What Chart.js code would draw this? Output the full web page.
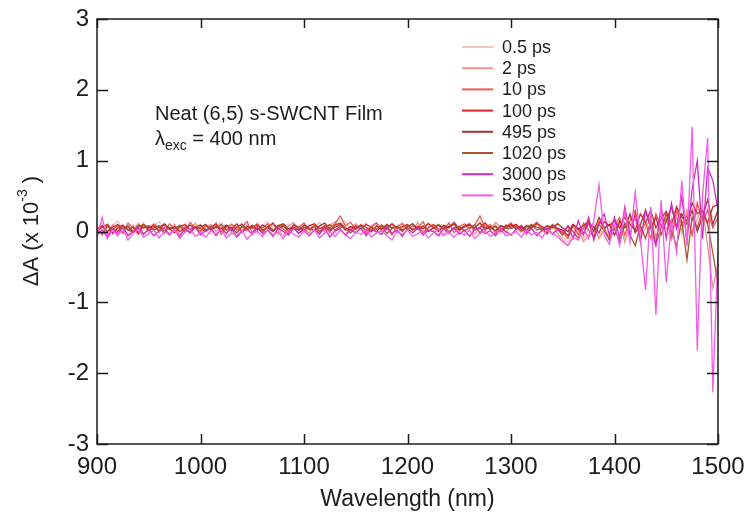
<!DOCTYPE html>
<html>
<head>
<meta charset="utf-8">
<script src="https://cdn.jsdelivr.net/npm/chart.js@4.4.1/dist/chart.umd.min.js"></script>
<style>
  html, body { margin: 0; padding: 0; background: #fff; }
  #wrap { position: relative; width: 747px; height: 518px; }
</style>
</head>
<body>
<div id="wrap"><canvas id="chart"></canvas></div>
<script>
// wavelength grid (nm)
const wavelengths = [
  900, 905, 910, 915, 920, 925, 930, 935, 940, 945,
  950, 955, 960, 965, 970, 975, 980, 985, 990, 995,
  1000, 1005, 1010, 1015, 1020, 1025, 1030, 1035, 1040, 1045,
  1050, 1055, 1060, 1065, 1070, 1075, 1080, 1085, 1090, 1095,
  1100, 1105, 1110, 1115, 1120, 1125, 1130, 1135, 1140, 1145,
  1150, 1155, 1160, 1165, 1170, 1175, 1180, 1185, 1190, 1195,
  1200, 1205, 1210, 1215, 1220, 1225, 1230, 1235, 1240, 1245,
  1250, 1255, 1260, 1265, 1270, 1275, 1280, 1285, 1290, 1295,
  1300, 1305, 1310, 1315, 1320, 1325, 1330, 1335, 1340, 1345,
  1350, 1355, 1360, 1365, 1370, 1375, 1380, 1385, 1390, 1395,
  1400, 1405, 1410, 1415, 1420, 1425, 1430, 1435, 1440, 1445,
  1450, 1455, 1460, 1465, 1470, 1475, 1480, 1485, 1490, 1495,
  1500
];

const delayLabels = ['0.5 ps', '2 ps', '10 ps', '100 ps', '495 ps', '1020 ps', '3000 ps', '5360 ps'];
const delayColors = ['#f5c4be', '#f3928a', '#ef5a4c', '#d8252e', '#a03636', '#a5562e', '#d42ac4', '#f25ce6'];

// ΔA (x 10^-3) per delay
const dA_05ps = [
  .05, .12, -.04, .08, .15, .02, -.06, .1, .04, .12,
  -.02, .08, .14, .03, -.05, .09, .02, .11, -.03, .06,
  .1, .01, -.04, .07, .13, .05, -.02, .08, .12, 0,
  .06, -.03, .09, .14, .04, -.05, .07, .11, .02, .08,
  -.04, .1, .05, .13, .01, .07, -.03, .09, .15, .04,
  0, .08, .12, -.02, .06, .1, .03, -.05, .08, .13,
  .05, -.01, .09, .04, .12, .02, -.04, .07, .1, .03,
  .08, -.02, .11, .05, .14, 0, .06, .1, -.03, .07,
  .12, .04, -.02, .09, .06, .13, .01, .08, -.04, .05,
  -.08, -.15, -.05, .06, -.1, .04, .12, -.06, .08, .15,
  .02, .18, -.1, .22, .05, -.08, .25, .1, -.12, .2,
  .3, .05, .35, -.05, .28, .15, .4, .1, .32, .2,
  .25
];
const dA_2ps = [
  .02, .08, -.06, .1, .04, -.03, .09, .01, .12, -.04,
  .06, .11, -.02, .07, .03, .1, -.05, .08, .02, .12,
  -.03, .06, .1, 0, .08, -.04, .11, .05, .01, .09,
  .04, .12, -.02, .07, .1, .01, -.06, .08, .13, .03,
  .07, -.03, .1, .05, 0, .09, .14, .02, -.05, .06,
  .11, .03, -.04, .08, .12, 0, .07, .1, -.02, .05,
  .09, .02, .13, -.03, .06, .1, .04, -.05, .08, .11,
  .01, .07, .12, -.04, .05, .09, .02, .13, .06, -.02,
  .08, .1, .03, -.05, .07, .12, 0, .06, .09, -.03,
  -.12, -.2, -.08, .02, -.14, -.05, .08, -.1, .03, .1,
  -.05, .12, -.15, .08, .18, -.1, .05, .2, -.08, .15,
  .05, -.12, .22, 0, .3, -.05, .18, .35, -.2, -.8,
  -.45
];
const dA_10ps = [
  .04, -.05, .1, .03, .08, -.02, .12, .05, -.04, .09,
  .02, .1, .06, -.03, .11, .04, .08, -.01, .13, .05,
  0, .09, .03, .12, -.04, .07, .1, .02, .06, .14,
  -.02, .08, .05, .11, 0, .09, .04, -.03, .1, .06,
  .12, .02, .07, -.04, .09, .05, .11, .22, .08, .13,
  .03, .1, -.02, .06, .12, .04, .09, -.05, .07, .11,
  .02, .08, .05, .14, 0, .06, .1, .03, .12, -.02,
  .07, .11, .04, .09, .22, .05, .1, -.03, .08, .06,
  .12, .03, .09, 0, .07, .13, .04, -.04, .1, .05,
  0, -.1, .08, -.05, .12, .02, -.08, .15, .05, -.1,
  .1, .2, -.05, .15, .3, 0, .12, -.1, .25, .08,
  .18, -.08, .3, .1, .22, -.05, .4, .15, .3, .05,
  .2
];
const dA_100ps = [
  0, .06, .1, -.03, .05, .09, .02, .07, -.02, .1,
  .05, .08, .01, .11, .04, -.02, .07, .1, .03, .06,
  .09, .02, .06, .1, 0, .08, .04, .11, -.01, .07,
  .05, .1, .02, .06, .12, .03, .08, 0, .09, .05,
  .02, .08, .11, .04, .07, 0, .09, .12, .05, .02,
  .08, .04, .1, .06, -.01, .09, .03, .11, .05, .07,
  .1, .02, .07, .04, .11, .06, 0, .09, .05, .13,
  .03, .08, .1, .02, .06, .12, .04, .07, 0, .09,
  .06, .1, .03, .08, .05, .11, .07, .02, .09, .04,
  .02, -.06, .1, .04, -.03, .12, .06, -.02, .14, .08,
  .15, .05, .2, .1, .02, .25, .12, .3, .05, .18,
  .28, .1, .35, .2, .15, .4, .25, .3, .12, .35,
  .38
];
const dA_495ps = [
  .03, .08, 0, .06, .1, .04, .07, -.01, .09, .05,
  .08, .02, .06, .1, .03, .07, 0, .05, .09, .04,
  .06, .1, .02, .07, .04, .09, .01, .06, .1, .03,
  .07, .02, .09, .05, 0, .08, .11, .04, .06, .02,
  .09, .05, .01, .08, .12, .03, .06, .1, .02, .07,
  .04, .09, .06, 0, .08, .03, .1, .05, .07, .02,
  .06, .11, .03, .08, 0, .05, .09, .04, .07, .1,
  .02, .06, .09, .05, .12, .03, .07, .01, .08, .05,
  .1, .04, .07, .02, .09, .06, .03, .08, .05, .11,
  .05, 0, .1, .03, .08, .15, 0, .2, .05, .1,
  -.05, .15, .05, .25, -.02, .1, .3, .05, .2, -.05,
  .15, .35, .05, .25, .1, .3, 0, .2, .45, .1,
  .3
];
const dA_1020ps = [
  .02, -.03, .07, .04, 0, .08, .03, -.02, .06, .1,
  .01, .05, .08, 0, .06, .03, .09, .02, -.01, .07,
  .04, 0, .08, .05, .1, .02, .06, -.02, .07, .03,
  .09, .04, 0, .07, .02, .06, .1, .01, .05, -.03,
  .06, .03, .08, 0, .05, .1, .02, .07, .04, -.02,
  .05, .08, .01, .06, .03, .09, -.03, .04, .07, 0,
  .08, .03, .06, -.01, .05, .1, .02, .07, 0, .04,
  .07, .01, .05, .09, -.02, .06, .03, .08, 0, .05,
  .04, .07, 0, .06, .1, .02, .05, -.02, .08, .03,
  -.05, .08, 0, -.1, .05, .12, -.08, .1, .02, -.12,
  .05, -.15, .12, -.05, -.2, .08, -.1, .15, -.18, .05,
  .25, 0, -.2, .15, -.4, .2, .05, .3, .1, -.3,
  -.75
];
const dA_3000ps = [
  -.05, .02, -.08, .04, -.03, .06, -.06, 0, .05, -.04,
  .03, -.06, .01, .05, -.04, .02, -.07, .04, -.02, .06,
  -.05, .01, .04, -.06, .03, -.02, .05, -.08, 0, .03,
  -.04, .06, -.03, .02, -.07, .04, 0, -.05, .05, -.02,
  .03, -.06, .02, -.03, .05, -.08, .01, .04, -.05, .02,
  -.02, .05, -.06, .03, 0, -.04, .06, -.03, .02, -.07,
  .04, -.02, .05, -.05, .02, 0, -.06, .04, -.03, .06,
  -.04, .02, -.07, .03, .05, -.03, .01, -.06, .04, 0,
  -.05, .03, .06, -.02, .04, -.06, .02, .05, -.04, .03,
  -.02, .08, -.1, .15, -.05, .2, -.12, .1, .25, -.05,
  .2, -.1, .35, -.05, .25, -.15, .3, .05, -.2, .35,
  -.1, .4, .05, .5, -.15, .6, 1.0, -.1, .9, .72,
  .3
];
const dA_5360ps = [
  -.08, .2, -.1, .02, -.06, .04, -.12, -.02, .03, -.08,
  -.03, .02, -.09, 0, -.05, .03, -.1, -.01, .04, -.07,
  -.02, -.08, .01, -.04, .03, -.09, -.02, -.06, .02, -.11,
  -.03, 0, -.07, .03, -.05, -.01, -.1, .02, -.04, -.08,
  .01, -.06, .03, -.09, -.02, 0, -.07, .02, -.05, -.1,
  -.01, -.04, .03, -.08, -.02, .01, -.06, -.12, 0, -.04,
  .02, -.07, -.03, .01, -.09, -.02, .03, -.06, -.01, -.08,
  0, -.05, .02, -.1, -.03, .01, -.07, -.02, .03, -.06,
  -.04, 0, -.08, .02, -.05, -.01, -.09, .03, -.03, -.07,
  -.15, -.2, -.08, -.12, .05, -.1, .15, .66, -.05, -.18,
  .1, -.2, .3, -.15, .55, -.1, -.83, .35, -1.18, .44,
  -.72, .15, -.3, .72, -.2, 1.48, -1.68, .5, 1.32, -2.27,
  -.3
];

const series = [dA_05ps, dA_2ps, dA_10ps, dA_100ps, dA_495ps, dA_1020ps, dA_3000ps, dA_5360ps];
const xTicks = [900, 1000, 1100, 1200, 1300, 1400, 1500];
const yTicks = [-3, -2, -1, 0, 1, 2, 3];

const SANS = "'Liberation Sans', Arial, sans-serif";
const INK = '#1c1c1c';

// box frame with inward ticks on all four sides
const frameTicks = {
    id: 'frameTicks',
    afterDatasetsDraw(chart) {
        const { ctx, chartArea: a, scales: { x, y } } = chart;
        ctx.save();
        ctx.strokeStyle = INK;
        ctx.lineWidth = 1.5;
        ctx.strokeRect(a.left, a.top, a.right - a.left, a.bottom - a.top);
        ctx.beginPath();
        xTicks.forEach(v => {
            const px = Math.round(x.getPixelForValue(v)) + 0.5;
            ctx.moveTo(px, a.bottom); ctx.lineTo(px, a.bottom - 10);
            ctx.moveTo(px, a.top); ctx.lineTo(px, a.top + 9);
        });
        yTicks.forEach(v => {
            const py = Math.round(y.getPixelForValue(v)) + 0.5;
            ctx.moveTo(a.left, py); ctx.lineTo(a.left + 11, py);
            ctx.moveTo(a.right, py); ctx.lineTo(a.right - 11, py);
        });
        ctx.stroke();
        ctx.restore();
    }
};

// legend, annotation and y title (with sub/superscripts)
const labelsPlugin = {
    id: 'labelsPlugin',
    afterDraw(chart) {
        const ctx = chart.ctx;
        ctx.save();
        ctx.fillStyle = INK;
        ctx.textBaseline = 'alphabetic';

        // annotation
        ctx.font = `20px ${SANS}`;
        ctx.fillText('Neat (6,5) s-SWCNT Film', 155, 120);
        ctx.fillText('\u03bb', 155, 145);
        let w = ctx.measureText('\u03bb').width;
        ctx.font = `14px ${SANS}`;
        ctx.fillText('exc', 155 + w, 150);
        const w2 = ctx.measureText('exc').width;
        ctx.font = `20px ${SANS}`;
        ctx.fillText(' = 400 nm', 155 + w + w2, 145);

        // legend
        ctx.textBaseline = 'middle';
        ctx.font = `18px ${SANS}`;
        delayLabels.forEach((lab, i) => {
            const yy = 47 + i * 21.2;
            ctx.strokeStyle = delayColors[i];
            ctx.lineWidth = 2;
            ctx.beginPath();
            ctx.moveTo(462, yy); ctx.lineTo(493, yy);
            ctx.stroke();
            ctx.fillStyle = INK;
            ctx.fillText(lab, 502, yy + 1);
        });

        // y axis title: ΔA (x 10^-3)
        ctx.translate(38, 231);
        ctx.rotate(-Math.PI / 2);
        ctx.textBaseline = 'alphabetic';
        const big = `22px ${SANS}`, small = `14px ${SANS}`;
        const parts = [['\u0394A (x 10', big, 0], ['-3', small, -11], [' )', big, 0]];
        let total = 0;
        parts.forEach(p => { ctx.font = p[1]; total += ctx.measureText(p[0]).width; });
        let cx = -total / 2;
        parts.forEach(p => {
            ctx.font = p[1];
            ctx.fillText(p[0], cx, p[2]);
            cx += ctx.measureText(p[0]).width;
        });
        ctx.restore();
    }
};

const datasets = series.map((vals, i) => ({
    label: delayLabels[i],
    data: wavelengths.map((wl, j) => ({ x: wl, y: vals[j] })),
    borderColor: delayColors[i],
    borderWidth: 1.3,
    pointRadius: 0,
    tension: 0,
    fill: false,
    order: series.length - i
}));

new Chart(document.getElementById('chart'), {
    type: 'line',
    data: { datasets },
    options: {
        responsive: true,
        maintainAspectRatio: false,
        animation: false,
        events: [],
        layout: { padding: { top: 19, right: 29, left: 0, bottom: 0 } },
        plugins: { legend: { display: false }, tooltip: { enabled: false } },
        scales: {
            x: {
                type: 'linear',
                min: 900,
                max: 1500,
                afterFit: s => { s.height = 74; s.paddingLeft = 0; s.paddingRight = 0; },
                afterBuildTicks: s => { s.ticks = xTicks.map(v => ({ value: v })); },
                grid: { display: false, drawTicks: false },
                border: { display: false },
                ticks: {
                    padding: 9,
                    maxRotation: 0,
                    autoSkip: false,
                    color: INK,
                    font: { family: SANS, size: 24 },
                    callback: v => String(v)
                },
                title: {
                    display: true,
                    text: 'Wavelength (nm)',
                    color: INK,
                    font: { family: SANS, size: 23 },
                    padding: { top: 0, bottom: 5 }
                }
            },
            y: {
                min: -3,
                max: 3,
                afterFit: s => { s.width = 97; s.paddingTop = 0; s.paddingBottom = 0; },
                afterBuildTicks: s => { s.ticks = yTicks.map(v => ({ value: v })); },
                grid: { display: false, drawTicks: false },
                border: { display: false },
                ticks: {
                    padding: 8,
                    color: INK,
                    font: { family: SANS, size: 24 },
                    callback: v => String(v)
                }
            }
        }
    },
    plugins: [frameTicks, labelsPlugin]
});
</script>
</body>
</html>
